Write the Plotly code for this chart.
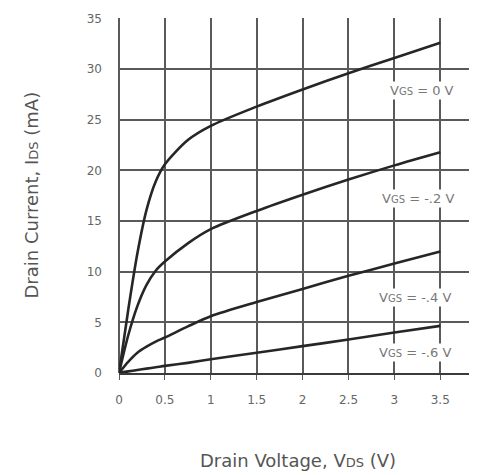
import plotly.graph_objects as go

# Drain voltage (V) sample points
vds = [0, 0.1, 0.2, 0.3, 0.4, 0.5, 0.75, 1.0, 1.5, 2.0, 2.5, 3.0, 3.5]

# Drain current (mA) for each gate voltage
ids_vgs_0 = [0, 6.2, 11.8, 16.1, 18.9, 20.6, 23.0, 24.4, 26.3, 28.0, 29.6, 31.1, 32.6]
ids_vgs_m02 = [0, 3.7, 6.6, 8.7, 10.1, 11.0, 12.8, 14.2, 16.0, 17.6, 19.1, 20.5, 21.8]
ids_vgs_m04 = [0, 1.1, 2.0, 2.6, 3.1, 3.5, 4.6, 5.6, 7.0, 8.3, 9.6, 10.8, 12.0]
ids_vgs_m06 = [0, 0.16, 0.3, 0.43, 0.56, 0.7, 1.0, 1.35, 2.0, 2.65, 3.3, 4.0, 4.65]

series = [ids_vgs_0, ids_vgs_m02, ids_vgs_m04, ids_vgs_m06]

label_texts = ["0 V", "-.2 V", "-.4 V", "-.6 V"]
label_x = [3.3, 3.26, 3.22, 3.22]
label_y = [27.9, 17.2, 7.5, 2.0]

x_ticks = [0, 0.5, 1, 1.5, 2, 2.5, 3, 3.5]
x_ticklabels = ["0", "0.5", "1", "1.5", "2", "2.5", "3", "3.5"]
y_ticks = [0, 5, 10, 15, 20, 25, 30, 35]
y_ticklabels = ["0", "5", "10", "15", "20", "25", "30", "35"]

x_title = "Drain Voltage, V<span style='font-size:13px'>DS</span> (V)"
y_title = "Drain Current, I<span style='font-size:13px'>DS</span> (mA)"

FONT = "DejaVu Sans, Arial, sans-serif"
GRID = "#5a5a5a"

fig = go.Figure()
for ys in series:
    fig.add_trace(go.Scatter(
        x=vds, y=ys, mode="lines",
        line=dict(color="#262626", width=2.6, shape="spline", smoothing=0.8),
        showlegend=False, hoverinfo="skip",
    ))

for t, lx, ly in zip(label_texts, label_x, label_y):
    fig.add_annotation(
        x=lx, y=ly, xref="x", yref="y", showarrow=False,
        text="V<span style='font-size:10px'>GS</span> = " + t,
        font=dict(family=FONT, size=13, color="#777777"),
        bgcolor="white", borderpad=1,
    )

# axis titles
fig.add_annotation(
    x=0.5, y=0, xref="paper", yref="paper", showarrow=False,
    yanchor="middle", yshift=-87, text=x_title,
    font=dict(family=FONT, size=18, color="#555555"),
)
fig.add_annotation(
    x=0, y=0.5, xref="paper", yref="paper", showarrow=False,
    xanchor="center", xshift=-88, textangle=-90, text=y_title,
    font=dict(family=FONT, size=18, color="#555555"),
)

# the page body adds an 8px offset, so the figure is sized to the visible area
fig.update_layout(
    width=469, height=467,
    margin=dict(l=111, r=0, t=10, b=102),
    paper_bgcolor="white", plot_bgcolor="white",
    font=dict(family=FONT, color="#666666"),
    xaxis=dict(
        range=[0, 3.9], tickvals=x_ticks, ticktext=x_ticklabels,
        showgrid=True, gridcolor=GRID, gridwidth=1.6,
        zeroline=True, zerolinecolor=GRID, zerolinewidth=1.6,
        showline=True, linecolor="#3a3a3a", linewidth=2,
        ticks="outside", ticklen=5, tickcolor=GRID, tickwidth=1.4,
        ticklabelstandoff=10, automargin=False,
        tickfont=dict(family=FONT, size=12, color="#666666"),
    ),
    yaxis=dict(
        range=[0, 35.05], tickvals=y_ticks, ticktext=y_ticklabels,
        showgrid=True, gridcolor=GRID, gridwidth=1.6,
        zeroline=False, showline=False,
        ticks="", ticklabelstandoff=16, automargin=False,
        tickfont=dict(family=FONT, size=12, color="#666666"),
    ),
)

fig.write_html("out.html")
